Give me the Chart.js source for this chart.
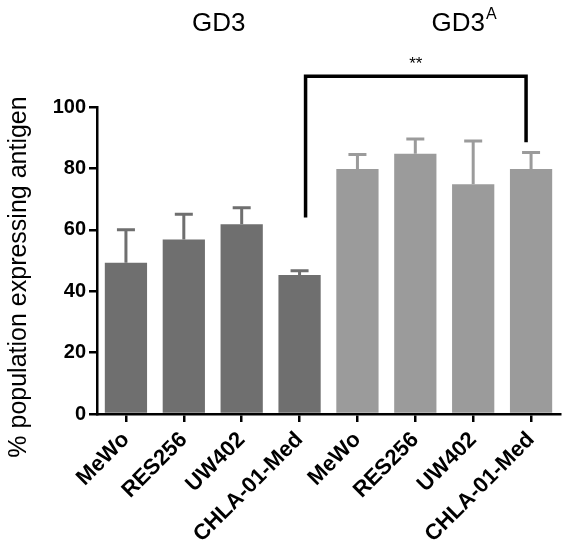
<!DOCTYPE html>
<html>
<head>
<meta charset="utf-8">
<script src="https://cdn.jsdelivr.net/npm/chart.js@4"></script>
<style>
html,body{margin:0;padding:0;background:#fff;}
#wrap{width:562px;height:547px;position:relative;}
</style>
</head>
<body>
<div id="wrap"><canvas id="c" width="562" height="547"></canvas></div>
<script>
const categories = ['MeWo','RES256','UW402','CHLA-01-Med','MeWo','RES256','UW402','CHLA-01-Med'];
const groups = ['GD3','GD3','GD3','GD3','GD3A','GD3A','GD3A','GD3A'];
const meanValues = [49.3, 56.8, 61.8, 45.3, 79.8, 84.8, 74.8, 79.8];
const errorValues = [10.7, 8.3, 5.4, 1.4, 4.7, 4.8, 14.1, 5.4];
const yTicks = [0, 20, 40, 60, 80, 100];
const groupColors = {GD3: '#6f6f6f', GD3A: '#9b9b9b'};
// significance bracket: from category 3 to category 7, values in data units
const bracket = {from: 3, to: 7, top: 110, leftEnd: 64, rightEnd: 88.5, label: '**'};

const FONT = '"Liberation Sans", Arial, Helvetica, sans-serif';

const extras = {
  id: 'extras',
  afterDatasetsDraw(chart) {
    const ctx = chart.ctx;
    const x = chart.scales.x, y = chart.scales.y;
    const meta = chart.getDatasetMeta(0);
    ctx.save();
    // error bars (upper only)
    meta.data.forEach((bar, i) => {
      const cx = bar.x;
      const yTop = y.getPixelForValue(meanValues[i] + errorValues[i]);
      const yMean = y.getPixelForValue(meanValues[i]);
      ctx.strokeStyle = groupColors[groups[i]];
      ctx.lineWidth = 3;
      ctx.beginPath();
      ctx.moveTo(cx, yMean);
      ctx.lineTo(cx, yTop);
      ctx.moveTo(cx - 9, yTop);
      ctx.lineTo(cx + 9, yTop);
      ctx.stroke();
    });
    // bracket
    const xl = x.getPixelForValue(bracket.from) + 6;
    const xr = x.getPixelForValue(bracket.to) - 5;
    const yt = y.getPixelForValue(bracket.top);
    ctx.strokeStyle = '#000';
    ctx.lineWidth = 3.5;
    ctx.lineJoin = 'miter';
    ctx.beginPath();
    ctx.moveTo(xl, y.getPixelForValue(bracket.leftEnd));
    ctx.lineTo(xl, yt);
    ctx.lineTo(xr, yt);
    ctx.lineTo(xr, y.getPixelForValue(bracket.rightEnd));
    ctx.stroke();
    ctx.fillStyle = '#000';
    ctx.font = '17px ' + FONT;
    ctx.textAlign = 'center';
    ctx.textBaseline = 'alphabetic';
    ctx.fillText(bracket.label, (xl + xr) / 2, yt - 7);
    // group titles
    ctx.font = '26px ' + FONT;
    ctx.textBaseline = 'alphabetic';
    const g1 = (x.getPixelForValue(0) + x.getPixelForValue(3)) / 2 + 6;
    ctx.textAlign = 'center';
    ctx.fillText('GD3', g1, 31);
    const g2 = (x.getPixelForValue(4) + x.getPixelForValue(7)) / 2 + 14;
    ctx.fillText('GD3', g2, 31);
    const w = ctx.measureText('GD3').width;
    ctx.font = '16px ' + FONT;
    ctx.textAlign = 'left';
    ctx.fillText('A', g2 + w / 2 + 1, 19);
    // y title
    ctx.font = '25px ' + FONT;
    ctx.textAlign = 'center';
    ctx.textBaseline = 'middle';
    ctx.translate(19, 277);
    ctx.rotate(-Math.PI / 2);
    ctx.fillText('% population expressing antigen', 0, 0);
    ctx.restore();
  }
};

new Chart(document.getElementById('c'), {
  type: 'bar',
  data: {
    labels: categories,
    datasets: [{
      data: meanValues,
      backgroundColor: groups.map(g => groupColors[g]),
      borderWidth: 0,
      barPercentage: 0.73,
      categoryPercentage: 1.0
    }]
  },
  options: {
    responsive: false,
    animation: false,
    devicePixelRatio: 1,
    layout: {padding: {top: 107, right: 2, left: 0, bottom: 0}},
    plugins: {legend: {display: false}, tooltip: {enabled: false}, title: {display: false}},
    scales: {
      x: {
        offset: true,
        grid: {display: true, offset: false, drawOnChartArea: false, drawTicks: true, tickLength: 8, color: '#000', lineWidth: 2.5},
        border: {display: true, color: '#000', width: 2.5},
        ticks: {color: '#000', font: {family: FONT, size: 22, weight: 'bold'}, minRotation: 45, maxRotation: 45, padding: 5},
        afterFit(s) { s.height = 133; }
      },
      y: {
        min: 0, max: 100,
        afterBuildTicks(s) { s.ticks = yTicks.map(v => ({value: v})); },
        grid: {display: true, drawOnChartArea: false, drawTicks: true, tickLength: 8, color: '#000', lineWidth: 2.5},
        border: {display: true, color: '#000', width: 2.5},
        ticks: {color: '#000', font: {family: FONT, size: 20, weight: 'bold'}, padding: 3},
        afterFit(s) { s.width = 97; }
      }
    }
  },
  plugins: [extras]
});
</script>
</body>
</html>
